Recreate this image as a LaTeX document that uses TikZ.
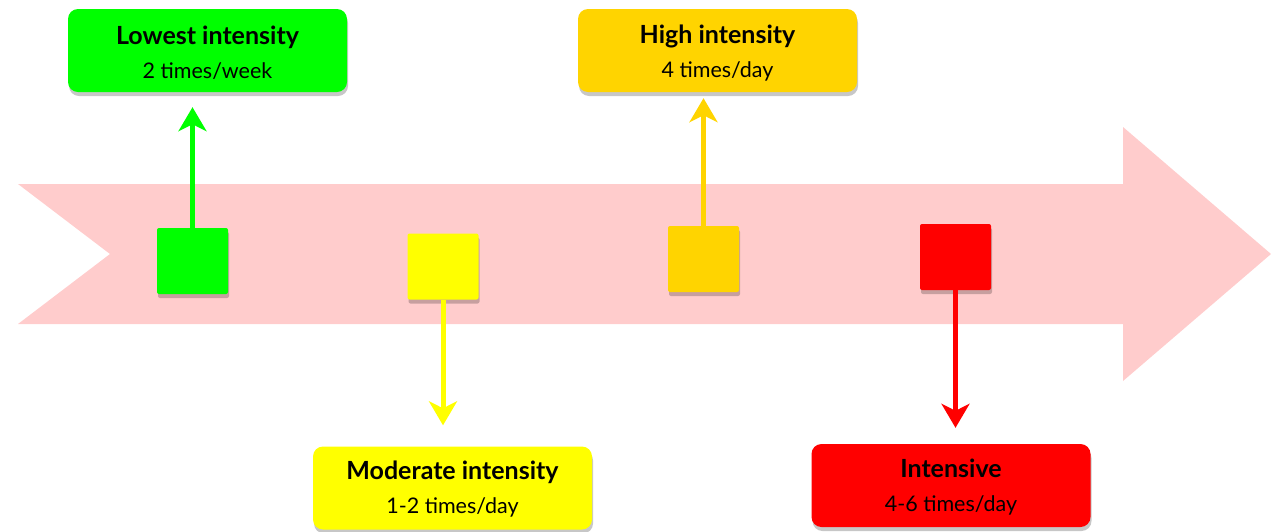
\documentclass[tikz,border=0pt]{standalone}
\usepackage{fontspec}
\setmainfont{Lato}
\usetikzlibrary{arrows.meta,shadows}
\definecolor{cgreen}{HTML}{00FF00}
\definecolor{cyellow}{HTML}{FFFF00}
\definecolor{cgold}{HTML}{FFD400}
\definecolor{cred}{HTML}{FF0000}
\definecolor{cpink}{HTML}{FFCCCC}
\tikzset{
  shd/.style={drop shadow={shadow xshift=1pt,shadow yshift=-4pt,opacity=0.22,fill=black}},
  label box/.style={shd,rounded corners=10pt,minimum width=279pt,minimum height=83pt,inner sep=0pt},
  label text/.style={align=center,inner sep=0pt,text=black,font=\fontsize{21.5}{24}\selectfont},
  marker/.style={shd,rounded corners=2pt,minimum width=71pt,minimum height=66pt,inner sep=0pt},
  link/.style={line width=5pt,-{Stealth[length=24pt,width=28pt,inset=7pt]}}
}
\newcommand{\boxtitle}[1]{{\fontsize{25}{28}\selectfont\bfseries #1}}
\begin{document}
\begin{tikzpicture}[x=1pt,y=-1pt]
\useasboundingbox (0,0) rectangle (1271,531);
% big arrow
\fill[cpink] (18,184) -- (1123,184) -- (1123,127) -- (1271,254) -- (1123,381) -- (1123,324) -- (18,324) -- (110,254) -- cycle;
% markers
\node[marker,fill=cgreen] (m1) at (192.5,261) {};
\node[marker,fill=cyellow] (m2) at (443,266.5) {};
\node[marker,fill=cgold] (m3) at (703.5,259) {};
\node[marker,fill=cred] (m4) at (955.5,257) {};
% boxes
\node[label box,fill=cgreen] (b1) at (207.5,50.5) {};
\node[label box,fill=cgold] (b3) at (717.5,50.5) {};
\node[label box,fill=cyellow] (b2) at (452.5,488) {};
\node[label box,fill=cred] (b4) at (951,485.5) {};
\node[label text] (t1) at ([yshift=-2.5pt]b1.center) {\boxtitle{Lowest intensity}\\[10pt]2 times/week};
\node[label text] (t3) at ([yshift=-2.5pt]b3.center) {\boxtitle{High intensity}\\[10pt]4 times/day};
\node[label text] (t2) at ([yshift=-1.5pt]b2.center) {\boxtitle{Moderate intensity}\\[10pt]1-2 times/day};
\node[label text] (t4) at ([yshift=-1.5pt]b4.center) {\boxtitle{Intensive}\\[10pt]4-6 times/day};
% connectors
\draw[link,cgreen,shorten >=15pt] (m1.north) -- (m1.north |- b1.south);
\draw[link,cgold,shorten >=6pt] (m3.north) -- (m3.north |- b3.south);
\draw[link,cyellow,shorten >=21pt] (m2.south) -- (m2.south |- b2.north);
\draw[link,cred,shorten >=16pt] (m4.south) -- (m4.south |- b4.north);
\end{tikzpicture}
\end{document}
